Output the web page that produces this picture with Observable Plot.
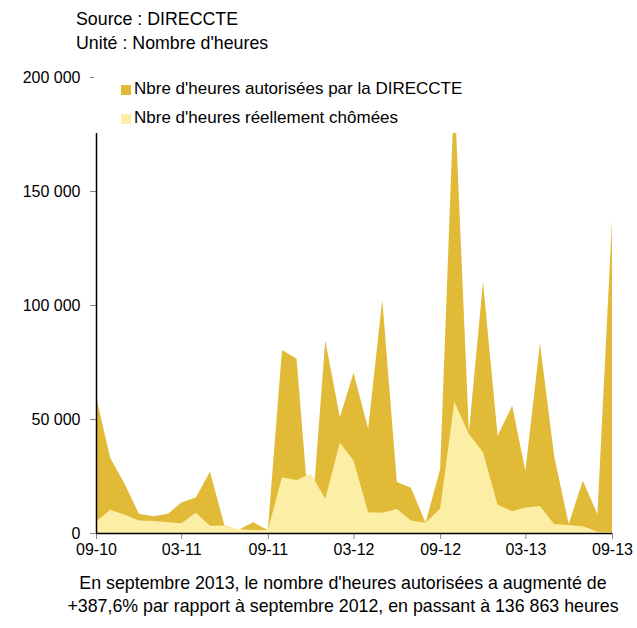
<!DOCTYPE html>
<html>
<head>
<meta charset="utf-8">
<script src="https://cdn.jsdelivr.net/npm/d3@7"></script>
<script src="https://cdn.jsdelivr.net/npm/@observablehq/plot@0.6"></script>
<style>
  body { margin: 0; background: #fff; font-family: "Liberation Sans", Arial, sans-serif; color: #000; }
  #wrap { position: relative; width: 637px; height: 628px; overflow: hidden; }
  #head { position: absolute; left: 76px; top: 8px; font-size: 17.8px; line-height: 23.5px; }
  #chart { position: absolute; left: 0; top: 60px; }
  #legend { position: absolute; left: 94px; top: 62px; width: 543px; height: 71px; background: #fff; font-size: 17px; }
  .item { position: absolute; left: 27px; height: 20px; line-height: 20px; white-space: nowrap; }
  .sw { display: inline-block; width: 10px; height: 10px; margin-right: 3px; vertical-align: -1px; }
  #caption { position: absolute; left: 0; width: 686px; top: 572px; text-align: center; font-size: 17.8px; line-height: 23px; }
</style>
</head>
<body>
<div id="wrap">
  <div id="head"><div>Source : DIRECCTE</div><div>Unité : Nombre d'heures</div></div>
  <div id="chart"></div>
  <div id="legend"></div>
  <div id="caption">En septembre 2013, le nombre d'heures autorisées a augmenté de<br>+387,6% par rapport à septembre 2012, en passant à 136 863 heures</div>
</div>
<script>
// Months (MM-YY), from 09-10 to 09-13
const months = [
  "2010-09","2010-10","2010-11","2010-12","2011-01","2011-02","2011-03","2011-04","2011-05","2011-06","2011-07","2011-08",
  "2011-09","2011-10","2011-11","2011-12","2012-01","2012-02","2012-03","2012-04","2012-05","2012-06","2012-07","2012-08",
  "2012-09","2012-10","2012-11","2012-12","2013-01","2013-02","2013-03","2013-04","2013-05","2013-06","2013-07","2013-08",
  "2013-09"
];
// Nbre d'heures autorisées par la DIRECCTE
const autorisees = [
  60000, 33000, 21500, 8400, 7400, 8400, 13400, 15600, 26900, 3300, 1400, 4700,
  1300, 80300, 76400, 0, 84400, 50800, 70300, 45700, 102400, 22400, 19900, 4500,
  28069, 195000, 44100, 110200, 42700, 55800, 27300, 83200, 33900, 3900, 22900, 8300,
  136863
];
// Nbre d'heures réellement chômées
const chomees = [
  5000, 10200, 8000, 5500, 5300, 4700, 4300, 8900, 3200, 3300, 1800, 1300,
  1300, 24500, 23300, 26000, 15000, 39600, 31800, 9100, 8900, 10500, 5500, 4500,
  10800, 57600, 43400, 35400, 12400, 9500, 11200, 11800, 3900, 3500, 3000, 700,
  300
];
const seriesNames = ["Nbre d'heures autorisées par la DIRECCTE", "Nbre d'heures réellement chômées"];
const seriesColors = ["#E1BA37", "#FCEEA4"];
const xTickMonths = ["2010-09","2011-03","2011-09","2012-03","2012-09","2013-03","2013-09"];
const yTickValues = [0, 50000, 100000, 150000, 200000];

const parse = d3.utcParse("%Y-%m");
const data = months.map((m, i) => ({date: parse(m), autorisees: autorisees[i], chomees: chomees[i]}));
const xTicks = xTickMonths.map(parse);
const fr = d3.formatLocale({decimal: ",", thousands: "\u00a0", grouping: [3], currency: ["", " €"]});
const yFmt = fr.format(",d");
const first = data[0].date, last = data[data.length - 1].date;

const chart = Plot.plot({
  width: 637,
  height: 510,
  marginLeft: 96,
  marginRight: 25,
  marginTop: 17,
  marginBottom: 37,
  style: {fontFamily: "'Liberation Sans', Arial, sans-serif", fontSize: "16px", color: "#000", background: "transparent", overflow: "visible"},
  x: {type: "utc", domain: [first, last]},
  y: {domain: [0, 200000]},
  marks: [
    Plot.areaY(data, {x: "date", y: "autorisees", fill: seriesColors[0]}),
    Plot.areaY(data, {x: "date", y: "chomees", fill: seriesColors[1]}),
    Plot.axisY({ticks: yTickValues, tickFormat: yFmt, tickSize: 6, tickPadding: 10, stroke: "#888", fill: "#000", label: null}),
    Plot.axisX({ticks: xTicks, tickFormat: d3.utcFormat("%m-%y"), tickSize: 6, tickPadding: 4, stroke: "#888", fill: "#000", label: null}),
    Plot.ruleX([first], {stroke: "#000", strokeWidth: 1.5}),
    Plot.ruleY([0], {stroke: "#000", strokeWidth: 1.5})
  ]
});
document.getElementById("chart").appendChild(chart);

const legend = document.getElementById("legend");
seriesNames.forEach((name, i) => {
  const it = document.createElement("div");
  it.className = "item";
  it.style.top = (17 + i * 29) + "px";
  const sw = document.createElement("span");
  sw.className = "sw";
  sw.style.background = seriesColors[i];
  it.appendChild(sw);
  it.appendChild(document.createTextNode(name));
  legend.appendChild(it);
});
</script>
</body>
</html>
